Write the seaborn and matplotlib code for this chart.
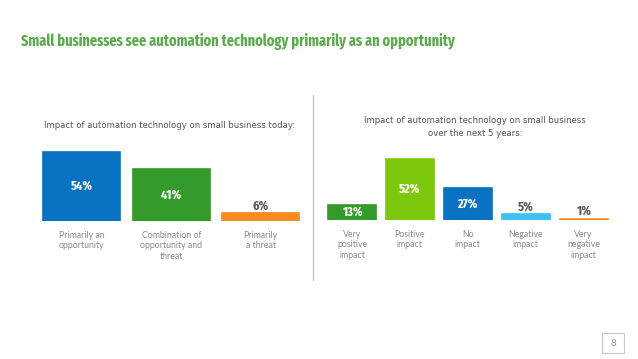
import matplotlib
matplotlib.use('Agg')
import matplotlib.pyplot as plt
import matplotlib.patches as mpatches
import seaborn as sns
import pandas as pd

# data
today_labels = ['Primarily an\nopportunity', 'Combination of\nopportunity and\nthreat', 'Primarily\na threat']
today_values = [54, 41, 6]
today_colors = ['#0a72c2', '#349a2b', '#f68a1f']

future_labels = ['Very\npositive\nimpact', 'Positive\nimpact', 'No\nimpact', 'Negative\nimpact', 'Very\nnegative\nimpact']
future_values = [13, 52, 27, 5, 1]
future_colors = ['#339a2b', '#7dc80c', '#0a72c2', '#3fbff4', '#f08a2a']

title = 'Small businesses see automation technology primarily as an opportunity'
sub_today = 'Impact of automation technology on small business today:'
sub_future = 'Impact of automation technology on small business\nover the next 5 years:'

NARROW = ['Liberation Sans Narrow', 'Fira Sans Extra Condensed', 'DejaVu Sans']
SMALL = ['DejaVu Sans']
LABEL = ['Lato', 'DejaVu Sans']

sns.set_theme(style='white')
plt.rcParams['font.family'] = NARROW

W, H = 638, 359
fig = plt.figure(figsize=(W / 100, H / 100), dpi=100)


def px_axes(left, top, width, height):
    # place axes using pixel coords measured from the top-left corner
    return fig.add_axes([left / W, (H - top - height) / H, width / W, height / H])


def draw_bars(ax, labels, values, colors, width, ymax, inside_min):
    df = pd.DataFrame({'cat': labels, 'val': values})
    sns.barplot(data=df, x='cat', y='val', hue='cat', palette=colors,
                width=width, legend=False, ax=ax, saturation=1)
    # thin edge in the bar colour so that the tiny bars stay visible
    for patch, c in zip(ax.patches, colors):
        patch.set_edgecolor(c)
        patch.set_linewidth(1.2)
    ax.set_ylim(0, ymax)
    ax.set_xlim(-0.5, len(labels) - 0.5)
    ax.set_xlabel('')
    ax.set_ylabel('')
    ax.set_yticks([])
    sns.despine(ax=ax, left=True, bottom=True)
    ax.tick_params(axis='x', length=0, pad=7, labelsize=6.3, labelcolor='#8a8a8a')
    for t in ax.get_xticklabels():
        t.set_family(LABEL)
        t.set_verticalalignment('top')
    for i, v in enumerate(values):
        if v >= inside_min:
            ax.text(i, v / 2, f'{v}%', ha='center', va='center', color='white',
                    fontsize=9.5, fontweight='bold')
        else:
            ax.text(i, v + 1.0, f'{v}%', ha='center', va='bottom', color='#5a5a5a',
                    fontsize=9.5, fontweight='bold')


ax1 = px_axes(37, 221 - 76.8, 268.5, 76.8)
draw_bars(ax1, today_labels, today_values, today_colors, 0.86, 60, 10)

ax2 = px_axes(323, 220 - 70.8, 289.5, 70.8)
draw_bars(ax2, future_labels, future_values, future_colors, 0.83, 60, 10)

# title
fig.text(21 / W, 1 - 41.5 / H, title, ha='left', va='center', color='#5aab4b',
         fontsize=11.2, fontweight='bold')

# subtitles
fig.text(169 / W, 1 - 126 / H, sub_today, ha='center', va='center', color='#555555',
         fontsize=6.1, family=SMALL)
fig.text(475 / W, 1 - 127 / H, sub_future, ha='center', va='center', color='#555555',
         fontsize=6.1, family=SMALL, linespacing=1.5)

# divider
fig.add_artist(plt.Line2D([313 / W, 313 / W], [1 - 95 / H, 1 - 280 / H],
                          color='#c0c0c0', lw=0.9))

# page number box
fig.add_artist(mpatches.Rectangle((602 / W, 1 - 353 / H), 22 / W, 20 / H,
                                  fill=False, edgecolor='#c8c8c8', lw=0.8))
fig.text(613 / W, 1 - 343 / H, '8', ha='center', va='center', color='#9a9a9a',
         fontsize=7, family=LABEL)

fig.savefig('out.png', dpi=100)
